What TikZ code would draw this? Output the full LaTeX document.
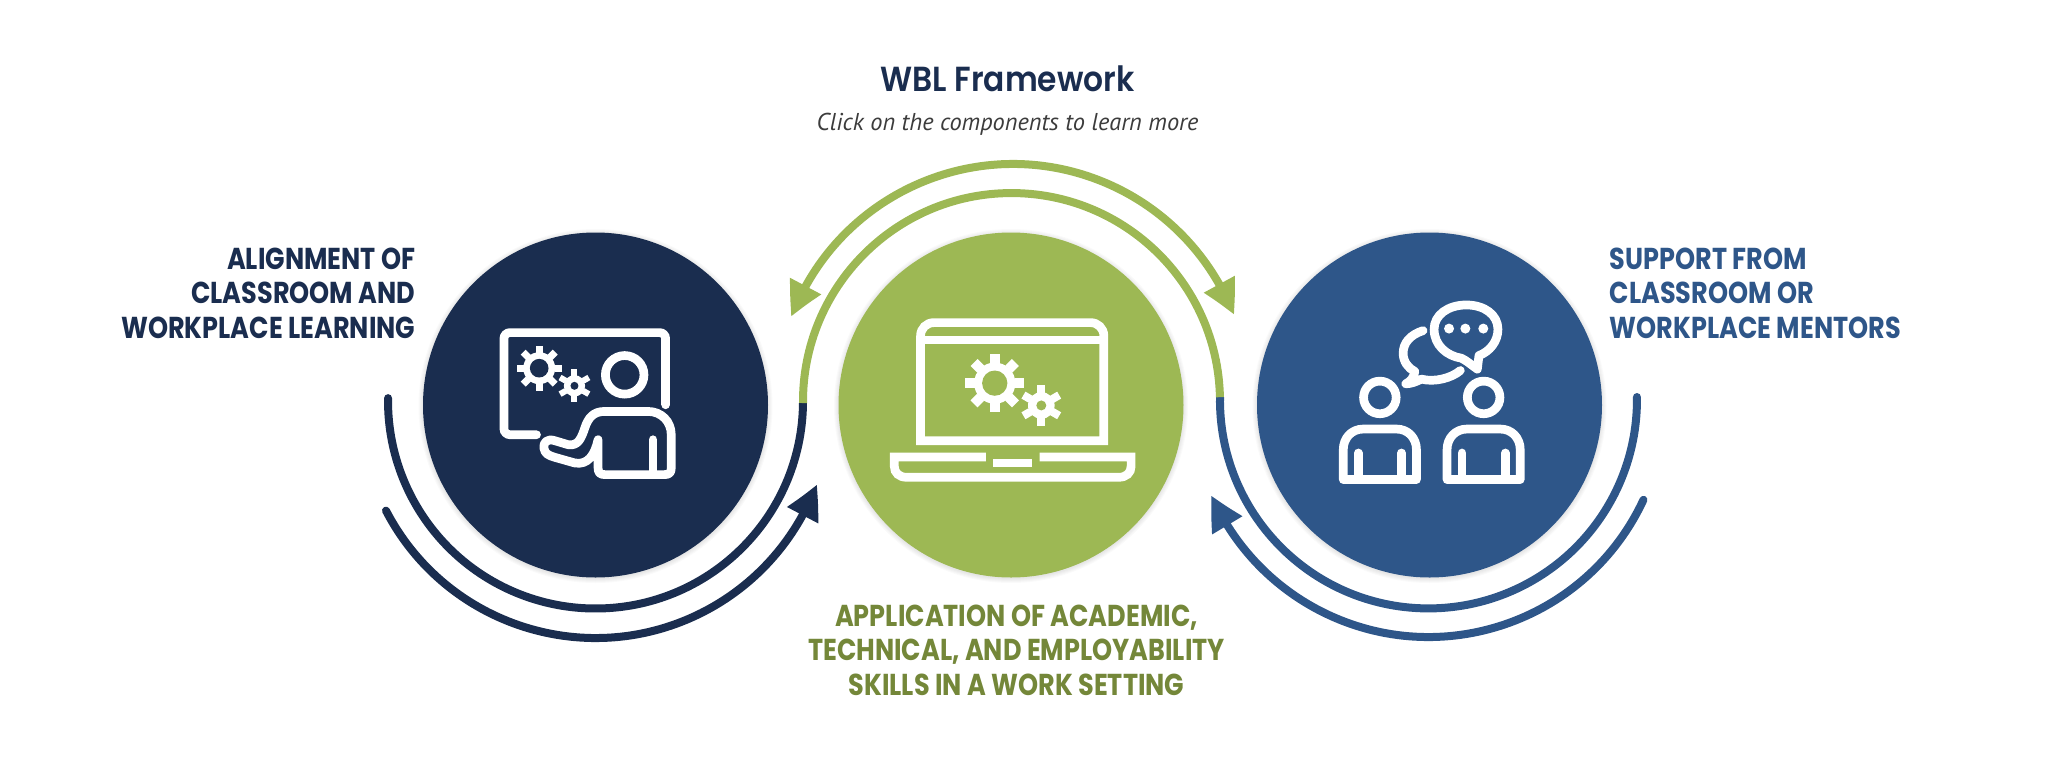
\documentclass[tikz,border=0pt]{standalone}
\usepackage{fontspec}
\usepackage{tikz}
\usetikzlibrary{arrows.meta,bending}
\newfontfamily\capsfont{Poppins Bold}[FakeStretch=0.845]
\newfontfamily\titlefont{Poppins SemiBold}[FakeStretch=0.9]
\newfontfamily\notefont{PT Sans}
\definecolor{navy}{HTML}{1A2D4F}
\definecolor{leaf}{HTML}{9DB854}
\definecolor{steel}{HTML}{2E5689}
\definecolor{olive}{HTML}{748739}
\definecolor{note}{HTML}{3C3C3C}
\newcommand{\cog}[8]{
    \fill [white] (#1,#2) circle (#4);
    \fill [#8] (#1,#2) circle (#3);
    \foreach \t in {#7}
        \draw [white,line width=#6cm] (#1,#2) ++(\t:#4-2) -- ++(\t:#5-#4+2);
}
\tikzset{
    hub/.style={circle,minimum size=3.45cm,inner sep=0pt},
    band/.style={line width=.08cm},
    tipped/.style={-{Triangle[length=.34cm,width=.33cm,bend]}},
    icon/.style={x=0.0033333cm,y=-0.0033333cm,white,line width=.087cm},
    caps/.style={inner sep=0pt,font=\capsfont\fontsize{8.6}{9.8}\selectfont},
}

\begin{document}
\begin{tikzpicture}
    \useasboundingbox (0,0) rectangle (20.48,7.78);
    \foreach \nm/\cx/\col in {align/5.955/navy,apply/10.11/leaf,support/14.295/steel} {
        \foreach \r in {1.77,1.76,1.75,1.74,1.73}
            \fill [black,opacity=.018] (\cx,3.72) circle (\r);
        \node [hub,fill=\col] (\nm) at (\cx,3.73) {};
    }
    \coordinate (leftjoin) at (8.03,3.75);
    \coordinate (rightjoin) at (12.20,3.81);
    \coordinate (leftlow) at (5.955,3.76);
    \coordinate (toparc) at (10.13,3.77);
    \coordinate (rightlow) at (14.285,3.78);

    \draw [band,navy,line cap=round] (leftjoin) arc [start angle=-.55,end angle=-180.8,radius=2.075];
    \draw [band,steel,line cap=round] (rightjoin) arc [start angle=179.2,end angle=360.8,radius=2.085];
    \draw [band,leaf] (leftjoin) arc [start angle=180.4,end angle=1.2,radius=2.085];

    \draw [band,navy,line cap=round,tipped] ([shift={(207.4:2.36)}]leftlow) arc [start angle=207.4,end angle=339.6,radius=2.36];
    \draw [band,steel,line cap=round,tipped] ([shift={(-24.9:2.37)}]rightlow) arc [start angle=-24.9,end angle=-156.3,radius=2.37];
    \draw [band,leaf,{Triangle[length=.34cm,width=.33cm,bend]}-{Triangle[length=.34cm,width=.33cm,bend]}] ([shift={(159.2:2.37)}]toparc) arc [start angle=159.2,end angle=21.3,radius=2.37];

    \begin{scope}[icon,shift={(4.80cm,4.78cm)}]
    \draw [line cap=round,rounded corners=.06cm] (170,405) -- (72,405) -- (72,98) -- (558,98) -- (558,315);
    \draw (435,225) circle (58);
    \cog{178}{205}{28}{48}{68}{.07}{0,45,...,315}{navy}
    \cog{284}{258}{12}{32}{50}{.06}{30,90,...,330}{navy}
    \draw [line cap=round,line join=round] (355,420) -- (355,505) .. controls (355,518) and (360,525) .. (375,525) -- (555,525) .. controls (570,525) and (575,518) .. (575,505) -- (575,405) .. controls (575,365) and (545,335) .. (505,335) -- (375,335) .. controls (340,335) and (325,355) .. (315,385) .. controls (305,415) and (295,440) .. (265,435) -- (225,423) .. controls (200,415) and (190,430) .. (192,445) .. controls (195,462) and (205,467) .. (225,473) -- (285,490) .. controls (325,497) and (345,465) .. (355,420);
    \draw [line cap=round] (520,420) -- (520,515);
    \end{scope}

    \begin{scope}[icon,shift={(8.80cm,4.78cm)}]
    \draw (122,423) -- (122,108) .. controls (122,85) and (140,68) .. (162,68) -- (633,68) .. controls (655,68) and (673,85) .. (673,108) -- (673,423) -- cycle;
    \draw (122,120) -- (673,120);
    \draw (318,472) -- (43,472) -- (43,500) .. controls (43,520) and (58,533) .. (80,533) -- (718,533) .. controls (740,533) and (755,520) .. (755,500) -- (755,472) -- (480,472);
    \fill (340,477) rectangle (458,502);
    \cog{345}{250}{38}{62}{88}{.1}{0,45,...,315}{leaf}
    \cog{485}{317}{15}{40}{62}{.08}{30,90,...,330}{leaf}
    \end{scope}

    \begin{scope}[icon,shift={(13.20cm,4.88cm)}]
    \foreach \dx in {0,312} {
        \begin{scope}[shift={(\dx,0)}]
        \draw (180,323) circle (49);
        \draw [line join=round] (70,570) -- (70,480) .. controls (70,445) and (95,418) .. (130,418) -- (230,418) .. controls (265,418) and (290,445) .. (290,480) -- (290,570) -- cycle;
        \draw [line cap=round] (115,490) -- (115,565);
        \draw [line cap=round] (245,490) -- (245,565);
        \end{scope}
    }
    \draw [line join=round] (473,238) .. controls (455,225) and (440,212) .. (425,205) .. controls (380,198) and (343,165) .. (343,118) .. controls (343,75) and (385,45) .. (440,45) .. controls (495,45) and (535,75) .. (535,118) .. controls (535,155) and (510,185) .. (478,197) -- cycle;
    \foreach \dotx in {388,437,491}
        \fill (\dotx,116) circle (15);
    \draw [line cap=round,line join=round] (310,122) .. controls (270,135) and (250,160) .. (250,190) .. controls (250,215) and (265,235) .. (285,245) .. controls (283,262) and (272,275) .. (258,282) .. controls (275,282) and (290,275) .. (305,268) .. controls (345,278) and (395,265) .. (422,242);
    \end{scope}

    \node [inner sep=0pt,text=navy,font=\titlefont\fontsize{9.9}{12}\selectfont,anchor=base] (frametitle) at (10.075,6.87) {WBL Framework};
    \node [inner sep=0pt,text=note,font=\notefont\itshape\fontsize{6.93}{8}\selectfont,anchor=base] (framenote) at (10.075,6.48) {Click on the components to learn more};
    \node [caps,text=navy,align=right,anchor=east] (alignlabel) at (4.16,4.85) {ALIGNMENT OF\\CLASSROOM AND\\WORKPLACE LEARNING};
    \node [caps,text=steel,align=left,anchor=west] (supportlabel) at (16.09,4.85) {SUPPORT FROM\\CLASSROOM OR\\WORKPLACE MENTORS};
    \node [caps,text=olive,align=center] (applylabel) at (10.165,1.28) {APPLICATION OF ACADEMIC,\\TECHNICAL, AND EMPLOYABILITY\\SKILLS IN A WORK SETTING};
\end{tikzpicture}
\end{document}
